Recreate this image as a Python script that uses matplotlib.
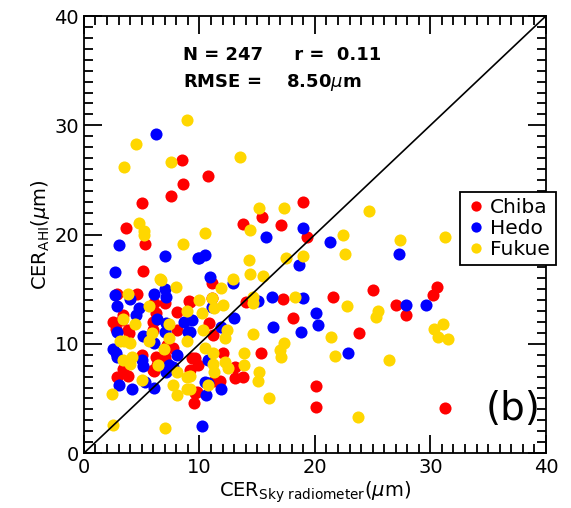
import matplotlib
matplotlib.use("Agg")
import matplotlib.pyplot as plt
import numpy as np

# Chiba (red)
chiba_x = [8.5, 8.6, 7.5, 5.0, 3.6, 5.3, 5.1, 10.7, 15.4, 19.0, 13.8, 17.1, 19.3,
           25.0, 30.6, 30.2, 21.6, 27.0, 27.9, 23.8, 20.1, 20.1, 31.3,
           11.1, 14.0, 17.2, 18.1, 15.3, 13.8, 13.1, 11.1,
           7.0, 2.9, 4.6, 9.1, 6.1, 6.2, 8.1, 3.4, 3.3, 2.5, 2.8, 3.8, 3.9, 6.0, 6.0,
           8.1, 7.2, 7.7, 5.0, 7.0, 7.1, 6.0, 3.4, 3.8, 2.9, 9.6, 9.5,
           9.2, 10.8, 11.2, 12.0, 6.2, 6.9, 6.3, 6.1, 9.2,
           9.6, 9.9, 9.4, 13.1, 11.8, 11.3, 9.8]
chiba_y = [26.8, 24.6, 23.5, 22.9, 20.6, 19.1, 16.7, 25.4, 21.6, 23.0, 21.0, 20.9, 19.8,
           14.9, 15.2, 14.5, 14.3, 13.6, 12.6, 11.0, 6.1, 4.2, 4.1,
           15.6, 13.8, 14.1, 12.4, 9.2, 7.0, 6.9, 14.2,
           13.7, 14.6, 14.6, 13.9, 13.7, 12.8, 12.9, 12.6, 12.2, 12.0, 11.4, 11.3, 11.0, 12.0, 11.3,
           11.3, 9.9, 9.6, 9.0, 8.8, 8.3, 7.6, 7.7, 7.1, 7.0, 5.5, 4.6,
           13.8, 11.9, 10.8, 9.2, 8.8, 9.0, 8.1, 7.5, 7.6,
           8.7, 8.1, 8.7, 7.9, 6.6, 6.6, 5.6]

# Hedo (blue)
hedo_x = [6.2, 3.0, 7.0, 9.9, 2.7, 19.0, 15.8, 10.0, 10.5, 18.6, 10.9,
          21.3, 27.3, 19.0, 27.9, 29.6, 20.1, 20.3, 18.8, 22.9,
          12.9, 15.1, 16.3, 13.0, 16.4, 10.2,
          7.0, 7.1, 6.1, 4.0, 2.7, 2.9, 4.8, 4.5, 6.3, 7.1, 8.7, 9.4, 9.0, 7.0, 2.9,
          5.1, 6.1, 2.5, 2.8, 8.1, 2.9, 5.0, 5.1, 7.3, 7.7, 5.3, 3.0, 4.2, 6.1,
          11.1, 11.9, 9.2, 7.4, 7.1, 10.7, 10.5, 10.7, 11.9, 10.6]
hedo_y = [29.2, 19.0, 18.0, 17.9, 16.6, 20.6, 19.8, 17.9, 18.1, 17.2, 16.1,
          19.3, 18.2, 14.2, 13.6, 13.6, 12.8, 11.7, 11.1, 9.2,
          15.6, 13.9, 14.3, 12.4, 11.5, 2.5,
          15.0, 14.3, 14.6, 14.1, 14.5, 13.5, 13.3, 12.6, 12.3, 11.9, 12.0, 12.2, 11.1, 11.1, 11.1,
          10.7, 10.1, 9.5, 9.2, 9.0, 8.8, 8.5, 8.0, 7.8, 7.9, 6.5, 6.2, 5.9, 6.0,
          13.4, 11.5, 11.1, 8.1, 7.4, 8.5, 6.5, 6.4, 5.9, 5.3]

# Fukue (gold)
fukue_x = [8.9, 4.5, 7.5, 3.5, 4.8, 5.2, 5.2, 8.6, 6.6,
           13.5, 15.2, 17.3, 14.4, 10.5, 14.3, 17.5, 19.0, 14.4, 15.5, 12.9,
           24.7, 22.4, 27.4, 31.3, 22.6,
           22.8, 25.5, 25.3, 21.4, 30.3, 31.1, 30.7, 31.5, 21.7, 26.4, 23.7,
           11.9, 14.6, 14.6, 18.3, 14.6, 17.3, 17.1, 13.9, 13.9, 15.2, 15.1, 16.0,
           6.7, 8.0, 3.8, 5.6, 8.9, 3.4, 4.4, 7.4, 5.9, 3.1, 3.5, 4.0, 5.6, 7.4, 8.9,
           6.9, 4.2, 3.4, 4.0, 6.4, 8.1, 8.9, 5.0, 7.7, 2.4, 8.1, 8.9, 2.5, 7.0,
           10.0, 10.2, 11.1, 11.3, 12.0, 10.3, 12.4, 12.2, 10.5, 11.2, 17.0,
           11.2, 11.3, 12.2, 12.5, 10.7, 9.2, 9.2]
fukue_y = [30.5, 28.3, 26.6, 26.2, 21.1, 20.3, 20.0, 19.1, 15.9,
           27.1, 22.4, 22.4, 20.4, 20.1, 17.7, 17.9, 18.0, 16.4, 16.2, 15.9,
           22.2, 20.0, 19.5, 19.8, 18.2,
           13.5, 13.0, 12.5, 10.6, 11.4, 11.8, 10.6, 10.4, 8.9, 8.5, 3.3,
           15.1, 14.3, 13.7, 14.3, 10.9, 10.1, 8.8, 9.2, 8.1, 7.4, 6.6, 5.0,
           15.8, 15.2, 14.6, 13.5, 13.0, 12.3, 11.8, 11.8, 11.0, 10.3, 10.3, 10.1, 10.3, 10.5, 10.3,
           9.5, 8.8, 8.5, 8.2, 8.1, 7.4, 7.0, 6.7, 6.2, 5.4, 5.3, 5.9, 2.6, 2.3,
           14.0, 12.8, 14.2, 13.3, 13.6, 11.3, 11.3, 10.5, 9.6, 9.2, 9.4,
           8.2, 7.4, 8.3, 7.8, 6.2, 7.1, 5.9]

fig = plt.figure(figsize=(5.71, 5.08), dpi=100)
ax = fig.add_axes([0.147, 0.108, 0.809, 0.8605])

ax.plot(chiba_x, chiba_y, "o", color="#ff0000", ms=8.7, mec="none", label="Chiba")
ax.plot(hedo_x, hedo_y, "o", color="#0000ff", ms=8.7, mec="none", label="Hedo")
ax.plot(fukue_x, fukue_y, "o", color="#ffd700", ms=8.7, mec="none", label="Fukue")

ax.plot([0, 40], [0, 40], color="black", lw=1.2)

ax.set_xlim(0, 40)
ax.set_ylim(0, 40)
ax.set_xticks([0, 10, 20, 30, 40])
ax.set_yticks([0, 10, 20, 30, 40])
ax.set_xticks(np.arange(0, 41, 1), minor=True)
ax.set_yticks(np.arange(0, 41, 1), minor=True)
ax.tick_params(which="both", direction="in", top=True, right=True, width=1.3, labelsize=14)
ax.tick_params(which="major", length=13)
ax.tick_params(which="minor", length=6.5)
for sp in ax.spines.values():
    sp.set_linewidth(1.3)

ax.set_xlabel(r"CER$_{\mathrm{Sky\ radiometer}}$($\mu$m)", fontsize=14, labelpad=2)
ax.set_ylabel(r"CER$_{\mathrm{AHI}}$($\mu$m)", fontsize=14, labelpad=2)

ax.text(8.6, 36.4, "N = 247     r =  0.11", fontsize=13, fontweight="bold", va="center")
ax.text(8.6, 33.9, r"RMSE =    8.50$\mu$m", fontsize=13, fontweight="bold", va="center")
ax.text(37.2, 4.0, "(b)", fontsize=28, ha="center", va="center")

leg = ax.legend(loc="upper left", bbox_to_anchor=(0.814, 0.597), fontsize=14.5,
                handletextpad=0.2, borderpad=0.3, labelspacing=0.1,
                handlelength=1.0, markerscale=0.85, borderaxespad=0,
                fancybox=False, framealpha=1)
leg.get_frame().set_edgecolor("black")
leg.get_frame().set_linewidth(1.3)

fig.savefig("out.png", dpi=100)
